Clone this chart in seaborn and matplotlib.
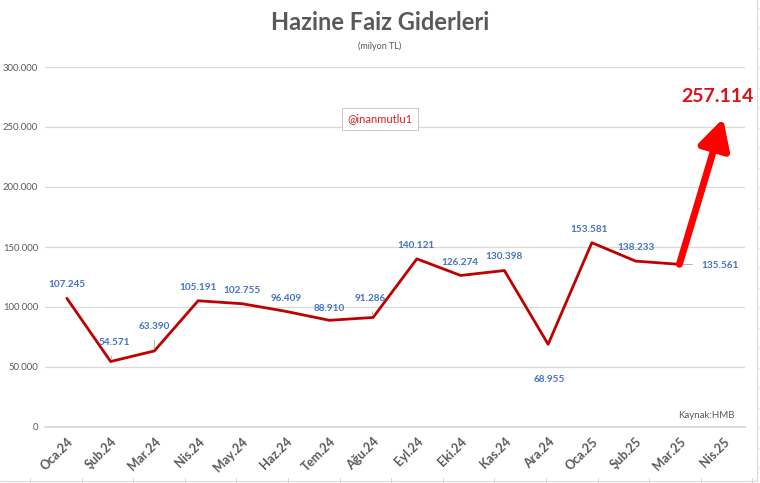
import matplotlib
matplotlib.use("Agg")
import matplotlib.pyplot as plt
import matplotlib.transforms as mtransforms
from matplotlib.lines import Line2D
import seaborn as sns
import pandas as pd

months = ["Oca.24", "Şub.24", "Mar.24", "Nis.24", "May.24", "Haz.24", "Tem.24", "Ağu.24",
          "Eyl.24", "Eki.24", "Kas.24", "Ara.24", "Oca.25", "Şub.25", "Mar.25", "Nis.25"]
values = [107245, 54571, 63390, 105191, 102755, 96409, 88910, 91286,
          140121, 126274, 130398, 68955, 153581, 138233, 135561]
apr_value = 257114
yticks = [0, 50000, 100000, 150000, 200000, 250000, 300000]

def fmt(v):
    return f"{v:,}".replace(",", ".")

sns.set_theme(style="white")
plt.rcParams['font.family'] = ['Lato', 'DejaVu Sans']

fig = plt.figure(figsize=(7.6, 4.83), dpi=100)
ax = fig.add_axes([45/760, 56/483, 700/760, 360/483])

df = pd.DataFrame({"idx": range(len(values)), "val": values})
sns.lineplot(data=df, x="idx", y="val", ax=ax, color="#C00000", linewidth=2.0, zorder=3)

ax.set_xlim(-0.5, len(months) - 0.5)
ax.set_ylim(0, 300000)
ax.set_yticks(yticks)
ax.set_yticklabels([fmt(t) for t in yticks], fontsize=6.8, color="#595959")
ax.set_xticks(range(len(months)))
ax.set_xticklabels(months, fontsize=9, color="#595959", rotation=45, ha="right",
                   rotation_mode="anchor", fontweight="bold")
off = mtransforms.ScaledTranslation(4/100, 0, fig.dpi_scale_trans)
for lab in ax.get_xticklabels():
    lab.set_transform(lab.get_transform() + off)
ax.tick_params(axis="x", length=0, pad=6)
ax.tick_params(axis="y", length=0, pad=5)
ax.set_xlabel("")
ax.set_ylabel("")
ax.grid(axis="y", color="#D9D9D9", linewidth=0.9)
ax.grid(axis="x", visible=False)
for s in ["top", "right", "left"]:
    ax.spines[s].set_visible(False)
ax.spines["bottom"].set_color("#D9D9D9")

# label offsets in px (dx, dy), and leader flag
offsets = [(0, 14, False), (4, 19, True), (0, 24, True), (0, 13, False), (0, 13, False),
           (1, 13, False), (0, 12, False), (-3, 19, True), (-1, 13, False), (-1, 13, False),
           (0, 14, False), (1, -35, False), (-3, 13, False), (0, 14, False), (22, -1, True)]
for i, v in enumerate(values):
    dx, dy, lead = offsets[i]
    ha = "left" if i == 14 else "center"
    ax.annotate(fmt(v), (i, v), xytext=(dx * 0.72, dy * 0.72), textcoords="offset points",
                ha=ha, va="center", fontsize=7.2, fontweight="bold",
                color="#4472C4", zorder=4,
                arrowprops=dict(arrowstyle="-", color="#A6A6A6", lw=0.6,
                                shrinkA=4, shrinkB=2) if lead else None)

# big red arrow to April value
ax.annotate("", xy=(15, apr_value), xytext=(14, values[-1]),
            arrowprops=dict(arrowstyle="-|>,head_length=1.5,head_width=0.8",
                            color="#FF0000", lw=5, shrinkA=0, shrinkB=0), zorder=5)
ax.annotate(fmt(apr_value), (15, apr_value), xytext=(-4, 16), textcoords="offset points",
            ha="center", va="center", fontsize=14, fontweight="bold", color="#D81418", zorder=5)

# titles
fig.text(380/760, 1 - 22/483, "Hazine Faiz Giderleri", ha="center", va="center",
         fontsize=17, fontweight="bold", color="#595959")
fig.text(380/760, 1 - 46/483, "(milyon TL)", ha="center", va="center",
         fontsize=6.5, color="#595959")

# watermark box
fig.text(380/760, 1 - 119/483, "@inanmutlu1", ha="center", va="center", fontsize=8,
         color="#D62020",
         bbox=dict(boxstyle="square,pad=0.5", facecolor="white", edgecolor="#BFBFBF", lw=0.6))

# source
fig.text(735/760, 1 - 416/483, "Kaynak:HMB", ha="right", va="center", fontsize=7,
         color="#595959")

# spreadsheet cell borders
fig.add_artist(Line2D([0, 757/760], [1 - 481/483] * 2, color="#D9D9D9", lw=0.8,
                      transform=fig.transFigure))
fig.add_artist(Line2D([757/760] * 2, [1 - 481/483, 1], color="#D9D9D9", lw=0.8,
                      transform=fig.transFigure))
for k in range(15):
    x = (30 + k * 51.6) / 760
    fig.add_artist(Line2D([x, x], [0, 1 - 478/483], color="#D9D9D9", lw=0.8,
                          transform=fig.transFigure))
for k in range(24):
    y = 1 - (8 + k * 20) / 483
    fig.add_artist(Line2D([757/760, 1], [y, y], color="#E6E6E6", lw=0.8,
                          transform=fig.transFigure))

fig.savefig("out.png", dpi=100, facecolor="white")
